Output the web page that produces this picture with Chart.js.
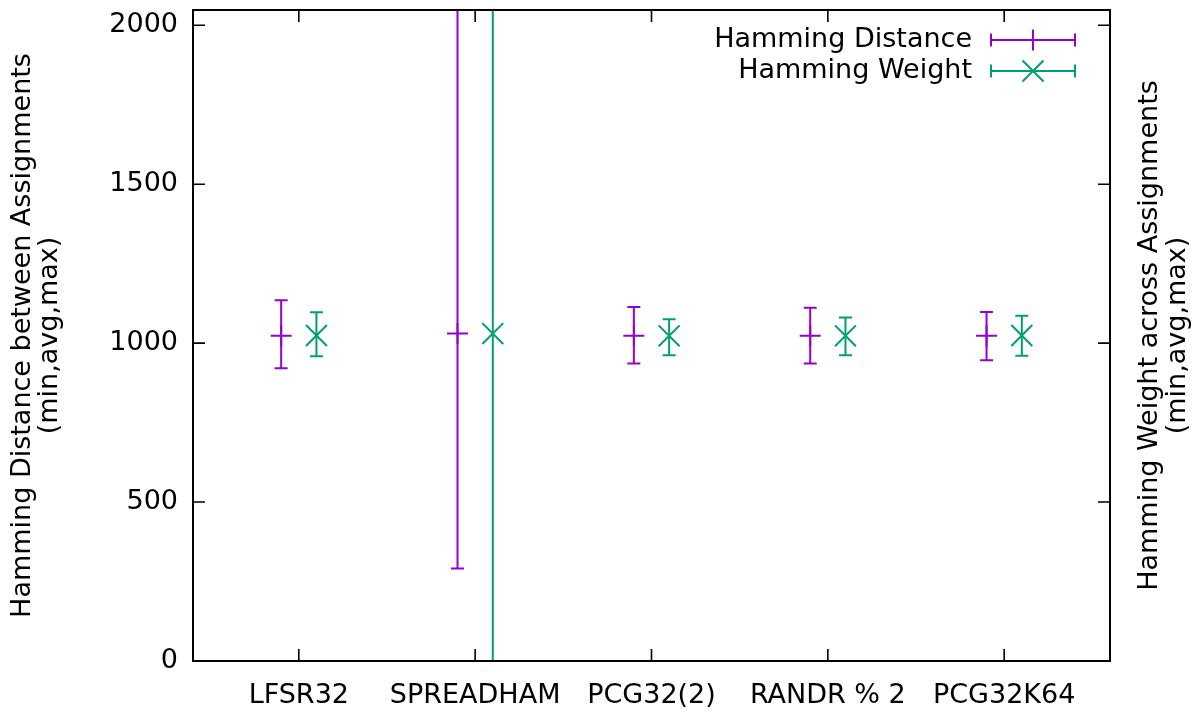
<!DOCTYPE html>
<html>
<head>
<meta charset="utf-8">
<script src="https://cdn.jsdelivr.net/npm/chart.js@4.4.1/dist/chart.umd.min.js"></script>
<style>
  html, body { margin: 0; padding: 0; background: #fff; }
</style>
</head>
<body>
<canvas id="hammingChart" width="1200" height="712"></canvas>
<script>
// values (min, avg, max per generator)
const categories = ['LFSR32', 'SPREADHAM', 'PCG32(2)', 'RANDR % 2', 'PCG32K64'];
const distMin = [921, 291, 936, 936, 946];
const distAvg = [1023, 1030, 1023, 1023, 1023];
const distMax = [1135, 2048, 1114, 1111, 1098];
const weightMin = [959, 0, 962, 962, 960];
const weightAvg = [1024, 1030, 1023, 1023, 1024];
const weightMax = [1097, 2048, 1075, 1081, 1086];
const yTicks = [0, 500, 1000, 1500, 2000];

const PURPLE = '#9400d3';
const GREEN = '#009e73';
const FONT = 'DejaVu Sans';
const LW = 2;

// points sit 0.1 left / right of each category
const toPoints = (vals, shift) => vals.map((v, i) => ({ x: i + 1 + shift, y: v }));

const data = {
    datasets: [
        {
            label: 'Hamming Distance',
            data: toPoints(distAvg, -0.1),
            low: distMin,
            high: distMax,
            borderColor: PURPLE,
            pointStyle: 'cross',
            pointRadius: 10.5,
            pointBorderWidth: LW,
        },
        {
            label: 'Hamming Weight',
            data: toPoints(weightAvg, 0.1),
            low: weightMin,
            high: weightMax,
            borderColor: GREEN,
            pointStyle: 'crossRot',
            pointRadius: 14.8, // chart.js draws the x at r*cos45
            pointBorderWidth: LW,
        },
    ],
};

// error bars, frame, inward ticks, key and second axis title
const gnuplotLook = {
    id: 'gnuplotLook',
    afterDatasetsDraw(chart) {
        const ctx = chart.ctx;
        const area = chart.chartArea;
        const xs = chart.scales.x;
        const ys = chart.scales.y;
        const cap = 6.5;

        ctx.save();
        ctx.beginPath();
        ctx.rect(area.left, area.top, area.right - area.left, area.bottom - area.top);
        ctx.clip();
        ctx.lineWidth = LW;
        chart.data.datasets.forEach((ds) => {
            ctx.strokeStyle = ds.borderColor;
            ds.data.forEach((p, i) => {
                const px = xs.getPixelForValue(p.x);
                const y1 = ys.getPixelForValue(ds.low[i]);
                const y2 = ys.getPixelForValue(ds.high[i]);
                ctx.beginPath();
                ctx.moveTo(px, y1);
                ctx.lineTo(px, y2);
                ctx.moveTo(px - cap, y1);
                ctx.lineTo(px + cap, y1);
                ctx.moveTo(px - cap, y2);
                ctx.lineTo(px + cap, y2);
                ctx.stroke();
            });
        });
        ctx.restore();

        // frame + inward ticks
        ctx.save();
        ctx.strokeStyle = '#000';
        ctx.lineWidth = 2;
        ctx.strokeRect(area.left, area.top, area.right - area.left, area.bottom - area.top);
        ctx.lineWidth = 1.6;
        ctx.beginPath();
        yTicks.forEach((t) => {
            const py = ys.getPixelForValue(t);
            ctx.moveTo(area.left, py);
            ctx.lineTo(area.left + 12, py);
            ctx.moveTo(area.right, py);
            ctx.lineTo(area.right - 12, py);
        });
        categories.forEach((c, i) => {
            const px = xs.getPixelForValue(i + 1);
            ctx.moveTo(px, area.bottom);
            ctx.lineTo(px, area.bottom - 12);
            ctx.moveTo(px, area.top);
            ctx.lineTo(px, area.top + 12);
        });
        ctx.stroke();

        // key, top right
        ctx.font = '27px "' + FONT + '"';
        ctx.fillStyle = '#000';
        ctx.textAlign = 'right';
        ctx.textBaseline = 'middle';
        chart.data.datasets.forEach((ds, k) => {
            const ky = 40 + k * 31;
            ctx.fillText(ds.label, 972, ky);
            ctx.strokeStyle = ds.borderColor;
            ctx.lineWidth = LW;
            ctx.beginPath();
            ctx.moveTo(991, ky);
            ctx.lineTo(1075, ky);
            ctx.moveTo(991, ky - cap);
            ctx.lineTo(991, ky + cap);
            ctx.moveTo(1075, ky - cap);
            ctx.lineTo(1075, ky + cap);
            const r = 10.5;
            if (ds.pointStyle === 'cross') {
                ctx.moveTo(1033 - r, ky);
                ctx.lineTo(1033 + r, ky);
                ctx.moveTo(1033, ky - r);
                ctx.lineTo(1033, ky + r);
            } else {
                ctx.moveTo(1033 - r, ky - r);
                ctx.lineTo(1033 + r, ky + r);
                ctx.moveTo(1033 - r, ky + r);
                ctx.lineTo(1033 + r, ky - r);
            }
            ctx.stroke();
        });

        // y2 title (reads bottom to top like the left one)
        const midY = (area.top + area.bottom) / 2;
        ctx.textAlign = 'center';
        [['Hamming Weight across Assignments', 1150], ['(min,avg,max)', 1178]].forEach(([txt, tx]) => {
            ctx.save();
            ctx.translate(tx, midY);
            ctx.rotate(-Math.PI / 2);
            ctx.fillText(txt, 0, 0);
            ctx.restore();
        });
        ctx.restore();
    },
};

const config = {
    type: 'scatter',
    data: data,
    options: {
        responsive: false,
        animation: false,
        devicePixelRatio: 1,
        layout: {
            autoPadding: false, // otherwise the marker radius pushes the plot down
            padding: { top: 10, right: 90, bottom: 0, left: 0 },
        },
        plugins: {
            legend: { display: false },
            tooltip: { enabled: false },
        },
        scales: {
            x: {
                type: 'linear',
                min: 0.4,
                max: 5.6,
                afterBuildTicks: (scale) => {
                    scale.ticks = categories.map((c, i) => ({ value: i + 1 }));
                },
                afterFit: (scale) => {
                    scale.height = 51;
                    scale.paddingLeft = 0;
                    scale.paddingRight = 0;
                },
                grid: { display: false, drawTicks: false },
                border: { display: false },
                ticks: {
                    autoSkip: false,
                    maxRotation: 0,
                    padding: 19,
                    color: '#000',
                    font: { family: FONT, size: 27 },
                    callback: (v, idx) => categories[idx],
                },
            },
            y: {
                min: 0,
                max: 2048,
                afterBuildTicks: (scale) => {
                    scale.ticks = yTicks.map((t) => ({ value: t }));
                },
                afterFit: (scale) => {
                    scale.width = 193;
                    scale.paddingTop = 0;
                    scale.paddingBottom = 0;
                },
                grid: { display: false, drawTicks: false },
                border: { display: false },
                ticks: {
                    padding: 15,
                    color: '#000',
                    font: { family: FONT, size: 27 },
                    callback: (v) => String(v),
                },
                title: {
                    display: true,
                    text: ['Hamming Distance between Assignments', '(min,avg,max)'],
                    color: '#000',
                    font: { family: FONT, size: 27, lineHeight: 1.0 },
                    padding: { top: 9, bottom: 0 },
                },
            },
        },
    },
    plugins: [gnuplotLook],
};

new Chart(document.getElementById('hammingChart'), config);
</script>
</body>
</html>
